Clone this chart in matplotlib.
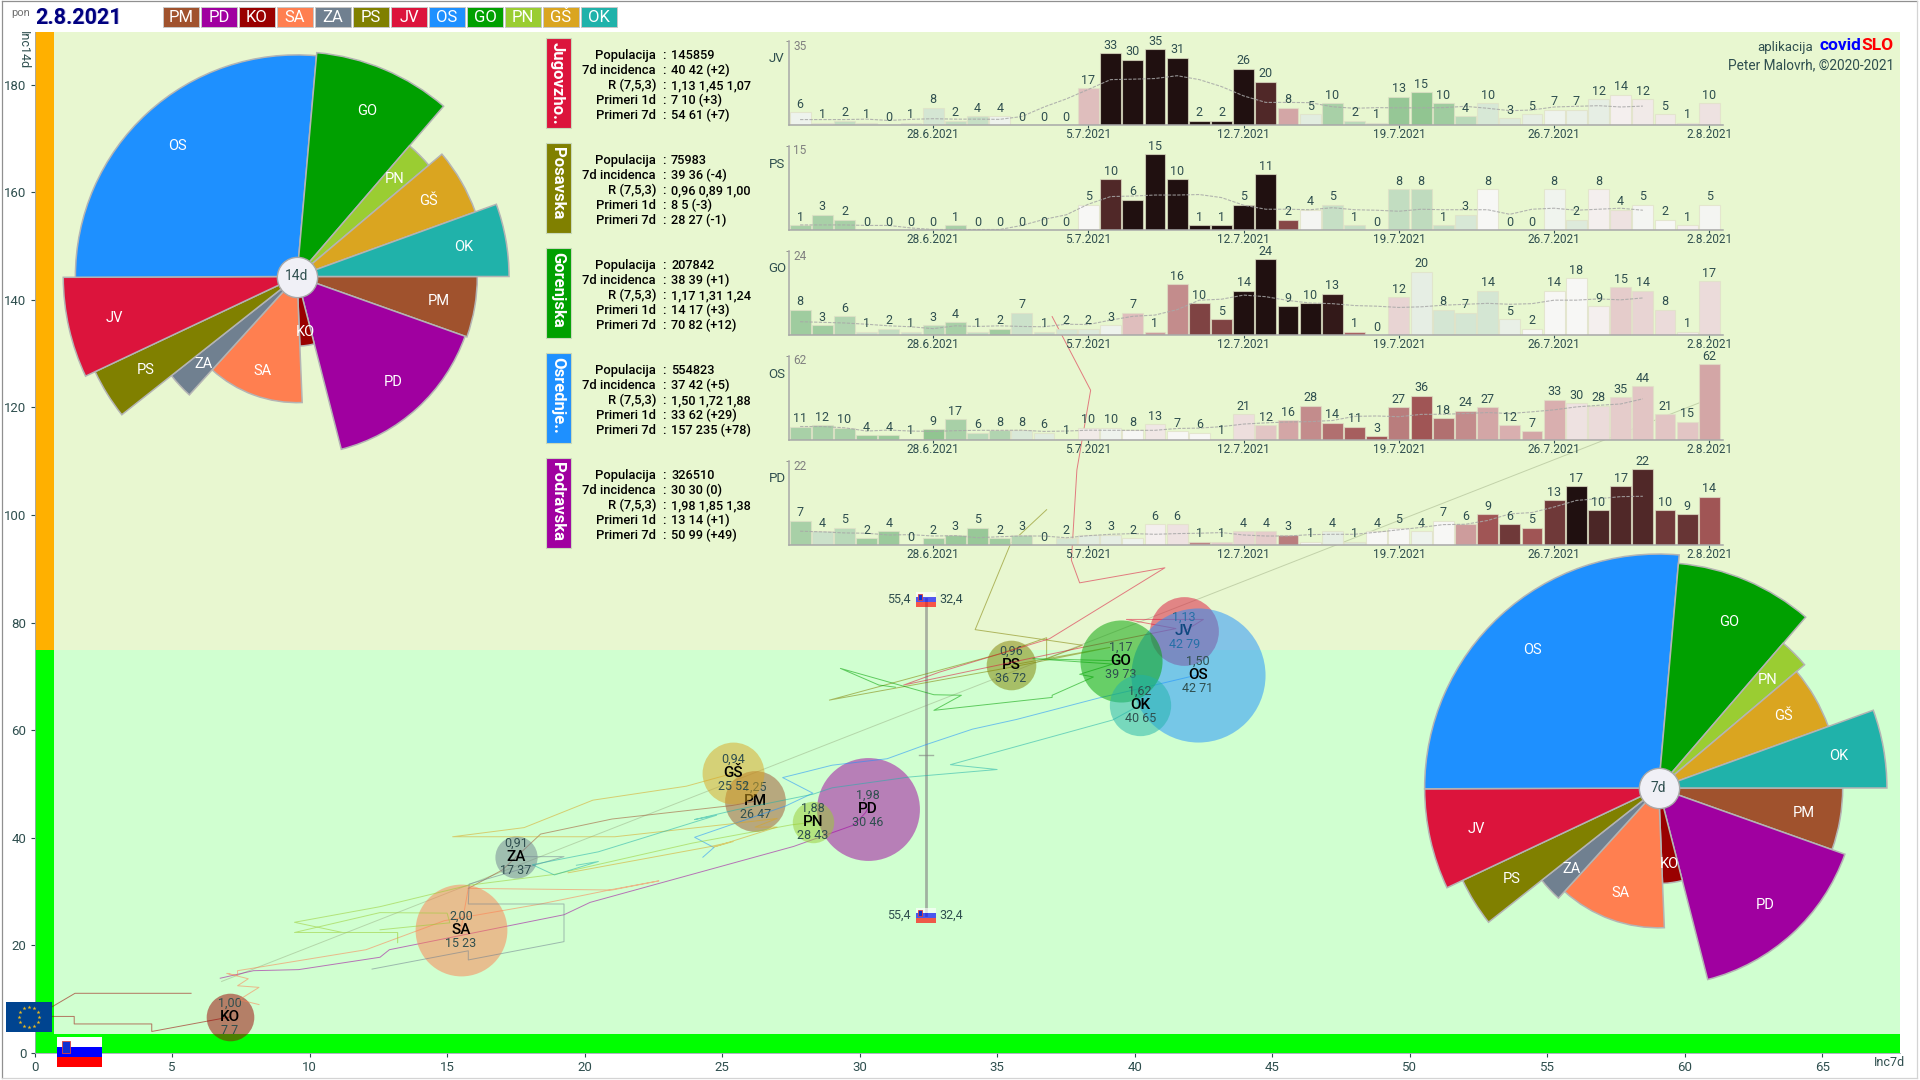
import numpy as np
import matplotlib
matplotlib.use("Agg")
import matplotlib.pyplot as plt
from matplotlib.colors import LinearSegmentedColormap
from matplotlib.lines import Line2D
from matplotlib.patches import Rectangle

plt.rcParams["font.family"] = ["Roboto", "DejaVu Sans"]

# regions, clockwise order of the pies
codes = ["PM", "PD", "KO", "SA", "ZA", "PS", "JV", "OS", "GO", "PN", "GŠ", "OK"]
colors = ["#A0522D", "#A000A0", "#990000", "#FF7F50", "#708090", "#808000",
          "#DC143C", "#1E90FF", "#00A000", "#9ACD32", "#DAA520", "#20B2AA"]
population = [114000, 326510, 70000, 260000, 55000, 75983, 145859, 554823, 207842, 53000, 118000, 116000]
inc7d = [26, 30, 7, 15, 17, 36, 42, 42, 39, 28, 25, 40]
inc14d = [47, 46, 7, 23, 37, 72, 79, 71, 73, 43, 52, 65]
r_now = ["1,25", "1,98", "1,00", "2,00", "0,91", "0,96", "1,13", "1,50", "1,17", "1,88", "0,94", "1,62"]
bubble_x = [26.2, 30.3, 7.1, 15.5, 17.5, 35.5, 41.8, 42.3, 39.5, 28.3, 25.4, 40.2]
bubble_y = [46.8, 45.4, 6.7, 22.9, 36.4, 72.1, 78.4, 70.3, 72.9, 42.9, 52.0, 64.7]

# where each region was in the last weeks (inc7d, inc14d)
trails = {
    "PM": [(26.2, 46.8), (25.35, 46), (21, 43.5), (18.4, 40.7), (17, 34), (15.77, 30.6)],
    "PD": [(30.3, 45.4), (30.2, 44.6), (29.8, 42.4), (27.6, 38.4), (20.2, 28), (19.25, 25.7), (12.9, 19.2),
           (12.56, 17.8), (9.6, 15.5), (7.96, 15.3), (6.75, 13.9)],
    "KO": [(7.1, 6.7), (4.26, 4), (4.26, 5.4), (1.44, 5.4), (1.44, 6.8), (0.04, 6.8), (1.47, 11.1), (5.69, 11.1)],
    "SA": [(15.5, 22.9), (15.77, 30.6), (21, 30.3), (22.7, 32), (21, 30.4), (18.4, 27.7), (14.9, 24.6), (12.05, 19.2),
           (7.38, 15.3), (7.38, 14.4), (6.99, 14.8), (7.77, 13.8), (7.38, 12.5), (8.16, 12.2), (7.44, 9.9), (8.16, 9)],
    "ZA": [(17.5, 36.5), (19.25, 36.5), (15.8, 31.4), (15.77, 27.7), (19.25, 27.7), (19.25, 20.7), (15.77, 17.3),
           (15.77, 19), (12.27, 15.6)],
    "PS": [(35.5, 72.1), (39.1, 75.4), (35.6, 71.8), (28.9, 65.6), (35.1, 74.2), (36.8, 77.2), (36.8, 73.3),
           (38.1, 75.8), (34.2, 78.7), (35.5, 94.8), (36.8, 101)],
    "JV": [(41.8, 78.4), (42.5, 80.6), (39.7, 80.6), (41.5, 78.9), (38.1, 75.4), (31.6, 68.4), (32.9, 70.8), (36.9, 77),
           (41.1, 90.2), (38, 87.4), (37.7, 91.6), (37.9, 108.4), (38.4, 123.2), (37, 136.9)],
    "OS": [(42.3, 70.3), (40.4, 68), (38.7, 66), (35.7, 62), (34.1, 60.2), (32.4, 57.3), (31, 54.7), (29, 53.5),
           (27.83, 52), (27.2, 51.2), (28.3, 48.3), (27.3, 45.9), (24, 40.1), (24.7, 38.2), (24.3, 36.4)],
    "GO": [(39.5, 72.9), (36.3, 73.3), (39.2, 72.3), (38, 70.4), (38.5, 69.9), (37, 66.5), (37, 66.1), (32.7, 63.7),
           (33.7, 66.5), (32.7, 66.6), (29.3, 71.5), (30.7, 68.4), (31.3, 68)],
    "PN": [(28.3, 42.9), (27.5, 42.4), (23.9, 39), (18.9, 33.2), (15.8, 31.2), (12.56, 27.2), (9.45, 24.3), (11.2, 22.4),
           (13.2, 22.4), (13.2, 20.5), (13.2, 22.4), (9.45, 22.4), (12.56, 26.1), (15, 26), (15.1, 24.2), (12.56, 22.9)],
    "GŠ": [(25.4, 52), (23.7, 49.6), (20.3, 47), (17.8, 41.9), (15.2, 40.2), (21.1, 40.2), (25.5, 42.7), (27, 43.6),
           (26.2, 42), (27, 42), (24.7, 38.3), (25.4, 39.3), (24.5, 38.3), (19.4, 33.5)],
    "OK": [(40.2, 64.7), (39.2, 61.9), (33.3, 53.6), (35, 52.7), (31.8, 51.3), (29, 49.3), (28.3, 48.1), (25.5, 45.2),
           (24, 43.4), (24.8, 44.2), (20.5, 37.4), (18.1, 35), (18.9, 33.1), (20.5, 35.6), (19.7, 34.9)],
}
guide_x = [6.8, 61.1]
guide_y = [13.3, 122.0]

si_inc7d = 32.4
si_inc14d = 55.4
si_low = 25.6
si_high = 84.4

# the five daily panels
panel_codes = ["JV", "PS", "GO", "OS", "PD"]
panel_names = ["Jugovzho..", "Posavska", "Gorenjska", "Osrednje..", "Podravska"]
panel_colors = ["#DC143C", "#808000", "#00A000", "#1E90FF", "#A000A0"]
info_labels = ["Populacija", "7d incidenca", "R (7,5,3)", "Primeri 1d", "Primeri 7d"]
info_values = [
    ["145859", "40 42 (+2)", "1,13 1,45 1,07", "7 10 (+3)", "54 61 (+7)"],
    ["75983", "39 36 (-4)", "0,96 0,89 1,00", "8 5 (-3)", "28 27 (-1)"],
    ["207842", "38 39 (+1)", "1,17 1,31 1,24", "14 17 (+3)", "70 82 (+12)"],
    ["554823", "37 42 (+5)", "1,50 1,72 1,88", "33 62 (+29)", "157 235 (+78)"],
    ["326510", "30 30 (0)", "1,98 1,85 1,38", "13 14 (+1)", "50 99 (+49)"],
]
day_ticks = [6, 13, 20, 27, 34, 41]
day_labels = ["28.6.2021", "5.7.2021", "12.7.2021", "19.7.2021", "26.7.2021", "2.8.2021"]

cases_jv = [6, 1, 2, 1, 0, 1, 8, 2, 4, 4, 0, 0, 0, 17, 33, 30, 35, 31, 2, 2, 26, 20, 8, 5, 10, 2, 1, 13, 15, 10, 4, 10,
            3, 5, 7, 7, 12, 14, 12, 5, 1, 10]
cases_ps = [1, 3, 2, 0, 0, 0, 0, 1, 0, 0, 0, 0, 0, 5, 10, 6, 15, 10, 1, 1, 5, 11, 2, 4, 5, 1, 0, 8, 8, 1, 3, 8,
            0, 0, 8, 2, 8, 4, 5, 2, 1, 5]
cases_go = [8, 3, 6, 1, 2, 1, 3, 4, 1, 2, 7, 1, 2, 2, 3, 7, 1, 16, 10, 5, 14, 24, 9, 10, 13, 1, 0, 12, 20, 8, 7, 14,
            5, 2, 14, 18, 9, 15, 14, 8, 1, 17]
cases_os = [11, 12, 10, 4, 4, 1, 9, 17, 6, 8, 8, 6, 1, 10, 10, 8, 13, 7, 6, 1, 21, 12, 16, 28, 14, 11, 3, 27, 36, 18,
            24, 27, 12, 7, 33, 30, 28, 35, 44, 21, 15, 62]
cases_pd = [7, 4, 5, 2, 4, 0, 2, 3, 5, 2, 3, 0, 2, 3, 3, 2, 6, 6, 1, 1, 4, 4, 3, 1, 4, 1, 4, 5, 4, 7, 6, 9, 6, 5, 13,
            17, 10, 17, 22, 10, 9, 14]

# dashed line over the bars
mean_jv = [2.5, 2.5, 2.5, 2.7, 2.1, 2.6, 2.9, 2.7, 2.7, 2.6, 3.9, 8.3, 12, 16.4, 20.9, 21.1, 21.4, 22.7, 20.9, 17.7,
           13.4, 10.4, 10.4, 10.3, 8.4, 7.7, 8, 7.9, 7.9, 8, 8.6, 7.7, 6.6, 6.9, 8.3, 8.6, 8.9, 8.3, 8.7]
mean_ps = [1, 1, 1, 0.9, 0.9, 0.4, 0.1, 0.1, 0.1, 0.1, 0.9, 2.1, 3, 5.1, 6.6, 6.7, 6.9, 6.9, 7, 6.4, 4.9, 4.1, 4.1,
           4, 4.4, 4, 3.9, 3.7, 4.1, 4, 4, 4, 3.1, 4.1, 4.3, 3.9, 4.1, 4.3, 3.9]
mean_go = [4.2, 4, 3.8, 3.4, 2.9, 2.6, 2, 2.9, 2.7, 2.9, 2.7, 2.6, 3.4, 3.3, 4.7, 5.9, 6.3, 8, 11, 11.3, 12.6, 12.1,
           10.9, 10.1, 9.9, 9.3, 9.1, 8.7, 8.9, 9.4, 9.7, 10, 9.7, 9.9, 11, 11, 11.4, 11.1, 11.7]
mean_os = [11, 11, 10, 7.3, 8.1, 7.3, 7, 7.6, 7.9, 7.9, 8, 7, 7.3, 8, 7.9, 7.9, 7.9, 9.4, 9.7, 10.9, 13, 14, 14.7,
           15, 15.9, 19.3, 19.6, 19, 20.9, 21, 21.6, 22.4, 21.6, 23, 24.6, 27, 28.3, 29.4, 33.6]
mean_pd = [4, 3.8, 3.5, 3.4, 2.9, 3, 2.6, 2.7, 2.1, 2.4, 2.6, 2.6, 2.1, 2.7, 3.1, 3.3, 3.1, 3.3, 3.4, 3.6, 2.9, 2.6,
           2.6, 3, 3.1, 3.1, 3.7, 4.4, 5.1, 5.9, 6, 7.1, 9, 9.4, 11, 12.9, 13.4, 14, 14.1]

# R of each day
rate_jv = [0.95, 0.9, 0.7, 0.8, 1, 0.85, 0.8, 0.7, 0.72, 0.95, 1, 1, 1, 1.4, 3, 3, 3, 3, 3, 3, 3, 2.5, 1.55, 0.88,
           0.55, 0.65, 0.75, 0.45, 0.42, 0.5, 0.65, 0.82, 0.85, 0.9, 0.95, 0.92, 0.9, 1.05, 1.1, 1.1, 1, 1.15]
rate_ps = [0.55, 0.55, 0.55, 1, 1, 1, 1, 0.55, 1, 1, 1, 1, 1, 1, 2.5, 3, 3, 3, 3, 3, 3, 3, 2.15, 0.98, 0.72, 0.72, 1,
           0.7, 0.68, 0.72, 0.82, 1, 1, 1, 0.96, 0.85, 1.05, 1.15, 0.98, 1, 1.05, 0.98]
rate_go = [0.5, 0.5, 0.6, 0.75, 0.7, 0.75, 0.62, 0.55, 0.7, 0.5, 0.75, 0.75, 0.8, 0.85, 0.95, 1.4, 1.6, 1.7, 2.2, 2.2,
           3, 3, 3, 3, 2.8, 1.95, 1, 1.25, 0.9, 0.8, 0.8, 0.8, 0.92, 1, 1, 1, 1.05, 1.3, 1.25, 1.2, 1.1, 1.2]
rate_os = [0.55, 0.55, 0.55, 0.48, 0.48, 0.7, 0.42, 0.55, 0.65, 0.6, 0.83, 0.87, 1, 1.1, 0.95, 1, 1.12, 1, 1, 1, 1.18,
           1.35, 1.55, 1.7, 1.85, 1.95, 2, 1.78, 2, 1.85, 1.7, 1.55, 1.5, 1.55, 1.5, 1.15, 1.2, 1.3, 1.35, 1.35, 1.35, 1.55]
rate_pd = [0.55, 0.75, 0.65, 0.5, 0.48, 1, 0.5, 0.48, 0.46, 0.5, 0.62, 1, 0.8, 0.88, 0.9, 0.95, 1.05, 1.15, 1.75, 1.3,
           1.25, 1.3, 1.78, 0.98, 0.9, 0.85, 1, 1, 0.95, 1, 1.6, 2, 2.3, 2, 2.3, 3, 2.55, 2.5, 2.5, 2.3, 2.35, 2]

panel_cases = [cases_jv, cases_ps, cases_go, cases_os, cases_pd]
panel_means = [mean_jv, mean_ps, mean_go, mean_os, mean_pd]
panel_rates = [rate_jv, rate_ps, rate_go, rate_os, rate_pd]
panel_bottoms = [125, 230, 335, 440, 545]

TEXT = "#2F4F4F"
W, H = 1920, 1080


def px_rect(left, top, right, bottom):
    return [left / W, 1 - bottom / H, (right - left) / W, (bottom - top) / H]


def add_box(left, top, right, bottom, color, edge="none", lw=0.0, alpha=1.0, z=2):
    fig.add_artist(Rectangle((left / W, 1 - bottom / H), (right - left) / W, (bottom - top) / H, facecolor=color,
                             edgecolor=edge, linewidth=lw, alpha=alpha, transform=fig.transFigure, zorder=z))


def add_text(x, y, s, size=9.0, color=TEXT, ha="left", va="center", **kw):
    fig.text(x / W, 1 - y / H, s, fontsize=size, color=color, ha=ha, va=va, zorder=5, **kw)


def si_flag(left, top, width, height, alpha=1.0, coat=True):
    part = height / 3
    add_box(left, top, left + width, top + part, "#FFFFFF", alpha=alpha, z=3)
    add_box(left, top + part, left + width, top + 2 * part, "#0000FF", alpha=alpha, z=3)
    add_box(left, top + 2 * part, left + width, top + height, "#FF0000", alpha=alpha, z=3)
    if coat:
        add_box(left + width * 0.13, top + height * 0.12, left + width * 0.31, top + height * 0.52, "#1030D0",
                edge="#E04040", lw=0.6, z=4)


fig = plt.figure(figsize=(W / 100, H / 100), dpi=100, facecolor="white")

# main scatter, x 0..67.8 and y 0..189.8
ax = fig.add_axes(px_rect(34.6, 32, 1900, 1053))
ax.set_xlim(0, 67.83)
ax.set_ylim(0, 189.8)
ax.set_facecolor("#D0FFD0")
ax.axhspan(75, 189.8, color="#E8F7D0", lw=0, zorder=0)
ax.axvspan(0, 0.7, ymin=75 / 189.8, color="#FFB000", lw=0, zorder=1)
ax.axvspan(0, 0.7, ymax=75 / 189.8, color="#00FF00", lw=0, zorder=1)
ax.axhspan(0, 3.6, color="#00FF00", lw=0, zorder=1)
for side in ["top", "right"]:
    ax.spines[side].set_visible(False)
for side in ["left", "bottom"]:
    ax.spines[side].set_color("#A0A8B8")
    ax.spines[side].set_linewidth(0.6)
ax.set_xticks(np.arange(0, 70, 5))
ax.set_yticks(np.arange(0, 200, 20))
ax.tick_params(colors=TEXT, labelsize=9.5, length=3, width=0.8, pad=3)

ax.plot(guide_x, guide_y, color="#8A9A70", lw=0.7, alpha=0.4, zorder=2)
for i, code in enumerate(codes):
    z = 3 + i
    xs, ys = zip(*trails[code])
    ax.plot(xs, ys, color=colors[i], lw=0.7, alpha=0.55, zorder=z + 0.3)
    ax.scatter([bubble_x[i]], [bubble_y[i]], s=0.0168 * population[i], color=colors[i], alpha=0.5, linewidths=0, zorder=z)
    ax.annotate(r_now[i], (bubble_x[i], bubble_y[i]), xytext=(0, 9.8), textcoords="offset points", ha="center",
                va="center", fontsize=9, color=TEXT, zorder=z + 0.5)
    ax.annotate(code, (bubble_x[i], bubble_y[i]), xytext=(0, 0), textcoords="offset points", ha="center",
                va="center", fontsize=11, fontweight="medium", color="black", zorder=z + 0.5)
    ax.annotate(f"{inc7d[i]} {inc14d[i]}", (bubble_x[i], bubble_y[i]), xytext=(0, -9.8), textcoords="offset points",
                ha="center", va="center", fontsize=9, color=TEXT, zorder=z + 0.5)

# Slovenian mean and spread
ax.plot([si_inc7d, si_inc7d], [si_low, si_high], color="#808080", lw=2, alpha=0.6, zorder=2.5)
ax.plot([si_inc7d - 0.25, si_inc7d + 0.25], [si_inc14d, si_inc14d], color="#808080", lw=1, alpha=0.6, zorder=2.5)
for flag_y in [si_high, si_low]:
    px_x = 34.6 + si_inc7d * 27.5
    px_y = 1053 - flag_y * 5.38
    si_flag(px_x - 10, px_y - 7, 20, 15, alpha=0.65)
    add_text(px_x - 15, px_y, "55,4", 9, ha="right")
    add_text(px_x + 14, px_y, "32,4", 9)


# pies: angle is the population, area is the incidence
def rose(center_x, center_y, values, scale, rmax, hub_text):
    radius = scale * rmax
    pie = fig.add_axes(px_rect(center_x - radius, center_y - radius, center_x + radius, center_y + radius),
                       projection="polar")
    pie.set_theta_zero_location("E")
    pie.set_theta_direction(-1)
    pie.patch.set_alpha(0)
    total = sum(population)
    start = 0.0
    for i, code in enumerate(codes):
        width = 2 * np.pi * population[i] / total
        height = np.sqrt(values[i])
        pie.bar(start, height, width=width, align="edge", color=colors[i], edgecolor="#B4B4B4", linewidth=1.1)
        pie.text(start + width / 2, height * 0.8, code, color="white", fontsize=10.5, ha="center", va="center")
        start += width
    pie.plot([0], [0], "o", ms=29, mfc="#F0F0F6", mec="#A8A8A8", mew=1, clip_on=False, zorder=6)
    pie.text(0, 0, hub_text, ha="center", va="center", fontsize=10, color=TEXT, zorder=7)
    pie.set_ylim(0, rmax)
    pie.axis("off")


rose(297, 276.5, inc14d, 26.3, 10, "14d")
rose(1658.6, 788, inc7d, 36.1, 7, "7d")

# daily bars
shade = LinearSegmentedColormap.from_list("rate", [
    (0.0, "#8FC48F"), (0.6 / 2.6, "#F7F7F5"), (1.1 / 2.6, "#D9AFAF"), (1.6 / 2.6, "#A05555"),
    (2.1 / 2.6, "#502828"), (1.0, "#201010")])

for p, code in enumerate(panel_codes):
    bottom = panel_bottoms[p]
    cases = panel_cases[p]
    top_value = max(cases)
    days = np.arange(len(cases))

    bar_ax = fig.add_axes(px_rect(789, bottom - 84, 1722.7, bottom))
    bar_ax.patch.set_alpha(0)
    bars = bar_ax.bar(days, cases, width=0.94, color=[shade((r - 0.4) / 2.6) for r in panel_rates[p]],
                      edgecolor=(0.88, 0.88, 0.78, 0.7), linewidth=0.8)
    for i, value in enumerate(cases):
        bar_ax.annotate(str(value), (i, value), xytext=(0, 1), textcoords="offset points", ha="center", va="bottom",
                        fontsize=9, color=TEXT, zorder=6)
    bar_ax.plot(np.arange(len(panel_means[p])), panel_means[p], color="#A8A8A8", lw=0.8, ls=(0, (3, 1.2)), alpha=0.85,
                zorder=5)
    bar_ax.set_xlim(-0.5, 41.6)
    bar_ax.set_ylim(0, top_value * 84 / 76)
    bar_ax.set_xticks(day_ticks)
    bar_ax.set_xticklabels(day_labels)
    bar_ax.set_yticks([top_value * 84 / 76])
    bar_ax.set_yticklabels([""])
    bar_ax.tick_params(axis="x", colors=TEXT, labelsize=8.5, length=2, width=0.8, pad=0)
    bar_ax.tick_params(axis="y", colors="#808080", length=2, width=0.6)
    for side in ["top", "right"]:
        bar_ax.spines[side].set_visible(False)
    for side in ["left", "bottom"]:
        bar_ax.spines[side].set_color("#A8A8A8")
        bar_ax.spines[side].set_linewidth(1.1)

    add_text(793, bottom - 79, str(top_value), 8.5, color="#808080")
    add_text(777, bottom - 66, code, 9.5, ha="center")

    # name tab and the info block on the left of the bars
    add_box(546, bottom - 87, 571, bottom + 3, panel_colors[p], edge="#C8D8B8", lw=0.8)
    fig.text(557.5 / W, 1 - (bottom - 83) / H, panel_names[p], rotation=270, ha="center", va="top", color="white",
             fontsize=12, fontweight="bold", zorder=5)
    for line in range(5):
        y = bottom - 69.3 + 15 * line
        add_text(656, y, info_labels[line], 9.4, color="black", ha="right", fontweight="medium")
        add_text(664, y, ":", 9.4, color="black", ha="center", fontweight="medium")
        add_text(671, y, info_values[p][line], 9.2, color="black", fontweight="medium")

# header
add_text(21, 13, "pon", 8, color="#707070", ha="center")
add_text(36, 18.5, "2.8.2021", 15.5, color="#C8C8E4", fontweight="bold")
add_text(35, 17.5, "2.8.2021", 15.5, color="#000080", fontweight="bold")
for i, code in enumerate(codes):
    left = 163 + i * 38
    add_box(left, 7, left + 36, 27, colors[i], edge="#C8C8C8", lw=0.7)
    add_text(left + 18, 17.5, code, 12, color="white", ha="center")

# axis names
add_text(23, 50, "Inc14d", 9, rotation=270, ha="center")
add_text(1889, 1063, "Inc7d", 9, ha="center")

# credits
add_text(1813, 47, "aplikacija", 9.5, ha="right")
add_text(1819, 46, "covid", 12.5, color="#0000FF", fontweight="bold")
add_text(1893, 46, "SLO", 12.5, color="#FF0000", fontweight="bold", ha="right")
add_text(1894, 65, "Peter Malovrh, ©2020-2021", 9.8, ha="right")

# EU flag and the big Slovenian flag
add_box(6, 1002, 52, 1032, "#004490")
eu_ax = fig.add_axes(px_rect(6, 1002, 52, 1032))
eu_ax.patch.set_alpha(0)
eu_ax.set_xlim(-23, 23)
eu_ax.set_ylim(-15, 15)
eu_ax.axis("off")
star_angles = np.deg2rad(np.arange(0, 360, 30))
eu_ax.scatter(10 * np.cos(star_angles), 10 * np.sin(star_angles), marker="*", s=9, color="#E8B820", linewidths=0, zorder=9)
eu_ax.set_zorder(4)
si_flag(56.5, 1037, 45, 30)

# thin frame of the picture
for xs, ys, c in [([1.5, 1.5], [1, 1078], "#909090"), ([1.5, 1917], [1, 1], "#909090"),
                  ([1917, 1917], [1, 1078], "#D4D4D4"), ([1.5, 1917], [1078, 1078], "#D4D4D4")]:
    fig.add_artist(Line2D([x / W for x in xs], [1 - y / H for y in ys], color=c, lw=0.9, transform=fig.transFigure))

fig.savefig("out.png", dpi=100, facecolor="white")
